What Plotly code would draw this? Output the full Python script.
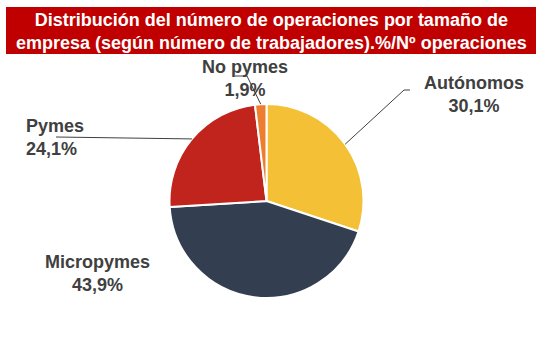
import math
import plotly.graph_objects as go

categories = ["Autónomos", "Micropymes", "Pymes", "No pymes"]
values = [30.1, 43.9, 24.1, 1.9]
value_labels = ["30,1%", "43,9%", "24,1%", "1,9%"]
colors = ["#F4C136", "#333F50", "#C0241C", "#ED7D31"]
title_text = "Distribución del número de operaciones por tamaño de<br>empresa (según número de trabajadores).%/Nº operaciones"

W, H = 546, 344
cx, cy, r = 266.5, 201.0, 97.0

def px(x):
    return x / W

def py(y):
    return 1 - y / H

fig = go.Figure(go.Pie(
    labels=categories, values=values, sort=False, direction="clockwise", rotation=0,
    marker=dict(colors=colors, line=dict(color="white", width=2)),
    textinfo="none", hoverinfo="label+percent", showlegend=False,
    domain=dict(x=[px(cx - r), px(cx + r)], y=[py(cy + r), py(cy - r)]),
))

# label positions (pixel) and leader-line elbows
label_pos = [(474, 94), (97, 273), (55, 137), (245, 79)]
label_align = ["center", "center", "left", "center"]
elbows = [[(404, 90), (410, 90)], None, [(56, 137)], [(247, 76), (235, 76)]]

total = sum(values)
cum = 0.0
shapes = []
annotations = []
for i, v in enumerate(values):
    mid = (cum + v / 2) / total * 2 * math.pi
    cum += v
    ex = cx + r * math.sin(mid)
    ey = cy - r * math.cos(mid)
    if elbows[i]:
        pts = [(ex, ey)] + elbows[i]
        path = "M " + " L ".join(f"{px(a)},{py(b)}" for a, b in pts)
        shapes.append(dict(type="path", path=path, xref="paper", yref="paper",
                           line=dict(color="#404040", width=1)))
    lx, ly = label_pos[i]
    annotations.append(dict(
        x=px(lx), y=py(ly), xref="paper", yref="paper", showarrow=False,
        text=f"<b>{categories[i]}<br>{value_labels[i]}</b>",
        font=dict(family="Liberation Sans, Arial", size=18, color="#404040"),
        xanchor="center", yanchor="middle", align=label_align[i],
    ))

# title banner
shapes.insert(0, dict(type="rect", xref="paper", yref="paper",
                      x0=px(6), x1=px(536), y0=py(54), y1=py(7),
                      fillcolor="#C00000", line=dict(width=0), layer="below"))
annotations.append(dict(
    x=px(271), y=py(32), xref="paper", yref="paper", showarrow=False,
    text=f"<b>{title_text}</b>",
    font=dict(family="Liberation Sans, Arial", size=18, color="white"),
    xanchor="center", yanchor="middle", align="center",
))

fig.update_layout(
    width=W, height=H, margin=dict(l=0, r=0, t=0, b=0),
    paper_bgcolor="white", plot_bgcolor="white",
    shapes=shapes, annotations=annotations,
)

fig.write_html("out.html")
